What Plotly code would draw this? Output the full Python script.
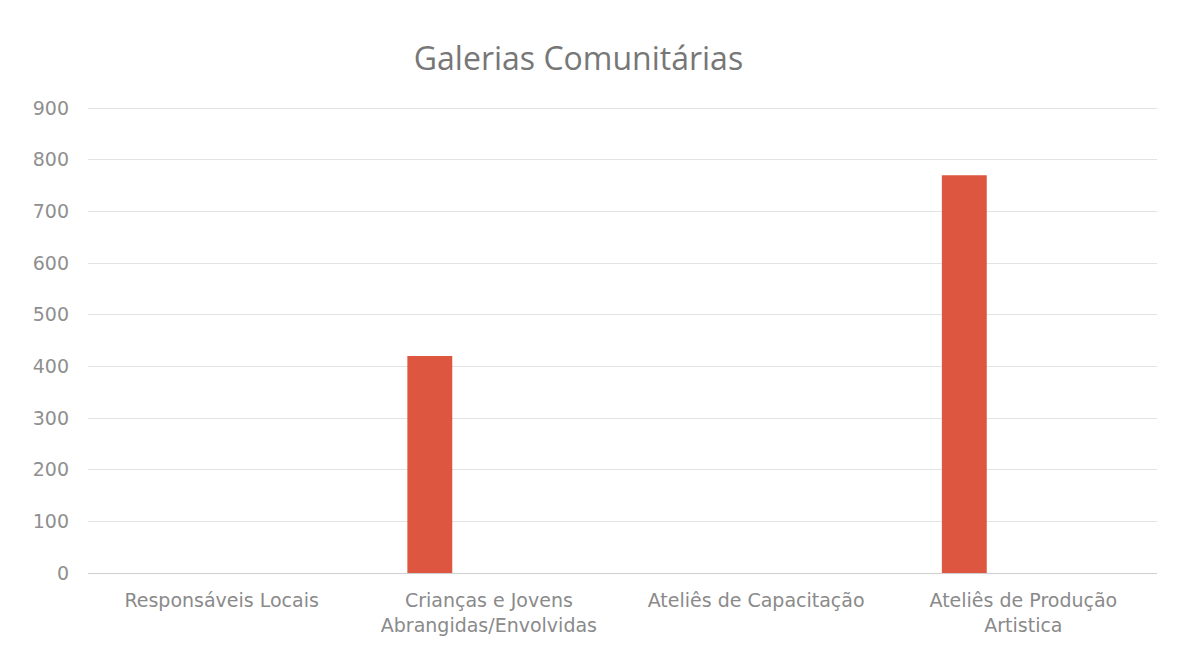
import plotly.graph_objects as go

categories = [
    "Responsáveis Locais",
    "Crianças e Jovens<br>Abrangidas/Envolvidas",
    "Ateliês de Capacitação",
    "Ateliês de Produção<br>Artistica",
]
values = [0, 420, 0, 770]
y_ticks = [0, 100, 200, 300, 400, 500, 600, 700, 800, 900]

fig = go.Figure()

fig.add_trace(
    go.Bar(
        x=categories,
        y=values,
        marker=dict(color="#DD5640", line=dict(width=0)),
        width=0.168,
        offset=-0.305,
        showlegend=False,
    )
)

# page body has an 8px margin, so the figure is a bit smaller than the window
fig.update_layout(
    width=1169,
    height=645,
    paper_bgcolor="white",
    plot_bgcolor="white",
    margin=dict(l=80, r=20, t=99, b=80),
    title=dict(
        text="Galerias Comunitárias",
        x=0.488,
        xanchor="center",
        y=0.921,
        yanchor="middle",
        font=dict(family="Open Sans", size=32, color="#777777"),
    ),
)

fig.update_xaxes(
    showgrid=False,
    showline=False,
    ticks="",
    ticklabelstandoff=14,
    tickfont=dict(family="DejaVu Sans", size=19, color="#8a8a8a"),
)

fig.update_yaxes(
    range=[0, 902],
    tickvals=y_ticks,
    showgrid=True,
    gridcolor="#e3e3e3",
    gridwidth=1,
    zeroline=True,
    zerolinecolor="#cfcfcf",
    zerolinewidth=1,
    showline=False,
    ticks="",
    ticklabelstandoff=18,
    tickfont=dict(family="DejaVu Sans", size=19, color="#8f8f8f"),
)

fig.write_html("out.html")
